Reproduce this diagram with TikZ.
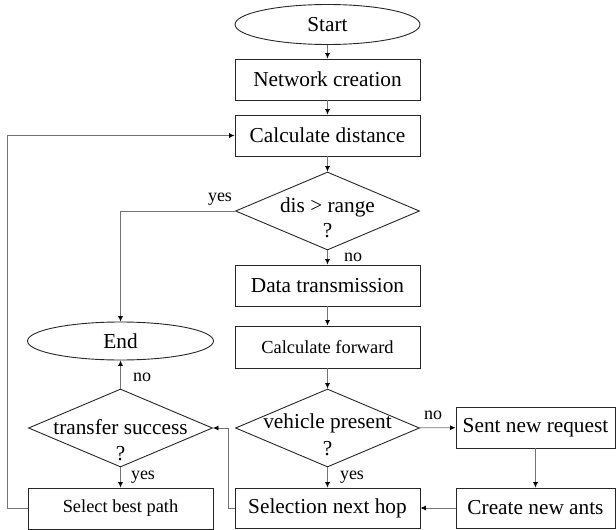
\documentclass[tikz,border=0pt]{standalone}
\usepackage{fontspec}
\setmainfont{Liberation Serif}
\usetikzlibrary{shapes.geometric,arrows.meta}
\begin{document}
\begin{tikzpicture}[x=1pt,y=-1pt,
  box/.style={draw=black!85,line width=0.9pt,rectangle,inner sep=0pt,minimum width=185pt,minimum height=41pt,font=\fontsize{21.3}{23}\selectfont},
  smallbox/.style={box,font=\fontsize{18.4}{20}\selectfont},
  oval/.style={draw=black!85,line width=0.9pt,ellipse,inner sep=0pt,minimum width=185pt,minimum height=40pt,font=\fontsize{21.3}{23}\selectfont},
  dia/.style={draw=black!85,line width=0.9pt,diamond,inner sep=0pt,minimum width=184pt,minimum height=78pt},
  txt/.style={inner sep=0pt,font=\fontsize{21.3}{23}\selectfont},
  lbl/.style={inner sep=0pt,font=\fontsize{18}{20}\selectfont},
  conn/.style={draw=black!55,line width=0.8pt,-{Latex[length=5.5pt,width=5pt,color=black]}}
]
\useasboundingbox (0,0) rectangle (616,530);
% main column
\node[oval] (start) at (327.5,24.5) {Start};
\node[box] (net) at (327.5,79.5) {Network creation};
\node[box] (calc) at (327.5,135.5) {Calculate distance};
\node[dia] (dis) at (327.5,211) {};
\node[txt] (dist) at (327.5,207) {dis > range};
\node[txt] (disq) at (327.5,231) {?};
\node[box] (data) at (327.5,285.5) {Data transmission};
\node[smallbox,minimum height=42pt] (fwd) at (327.5,347) {Calculate forward};
\node[dia] (veh) at (327.5,428) {};
\node[txt] (veht) at (327.5,423) {vehicle present};
\node[txt] (vehq) at (327.5,449) {?};
\node[box,minimum height=40pt] (hop) at (327.5,508) {Selection next hop};
% right column
\node[box,minimum width=159pt] (req) at (535.5,427.5) {Sent new request};
\node[box,minimum width=159pt,minimum height=40pt] (ants) at (535.5,508) {Create new ants};
% left column
\node[oval,minimum width=186pt,minimum height=38pt] (end) at (120.5,341) {End};
\node[dia] (trans) at (120.5,428) {};
\node[txt] (transt) at (120.5,427) {transfer success};
\node[txt] (transq) at (120.5,454) {?};
\node[smallbox] (best) at (120.5,508.5) {Select best path};
% corner coordinates
\coordinate (loopb) at (7,508.5);
\coordinate (loopt) at (7,135.5);
\coordinate (yesc) at (120.5,211);
\coordinate (retb) at (228,508);
\coordinate (rett) at (228,428);
% connectors
\draw[conn] (start) -- (net);
\draw[conn] (net) -- (calc);
\draw[conn] (calc) -- (dis);
\draw[conn] (dis) -- (data);
\draw[conn] (data) -- (fwd);
\draw[conn] (fwd) -- (veh);
\draw[conn] (veh) -- (req);
\draw[conn] (veh) -- (hop);
\draw[conn] (req) -- (ants);
\draw[conn] (ants) -- (hop);
\draw[conn] (hop.west) -- (retb) -- (rett) -- (trans.east);
\draw[conn] (trans) -- (best);
\draw[conn] (trans) -- (end);
\draw[conn] (best.west) -- (loopb) -- (loopt) -- (calc.west);
\draw[conn] (dis.west) -- (yesc) -- (end.north);
% labels
\node[lbl] (l1) at (220,199) {yes};
\node[lbl] (l2) at (353,257) {no};
\node[lbl] (l3) at (433,415) {no};
\node[lbl] (l4) at (352,477) {yes};
\node[lbl] (l5) at (143,477) {yes};
\node[lbl] (l6) at (142,377) {no};
\end{tikzpicture}
\end{document}
